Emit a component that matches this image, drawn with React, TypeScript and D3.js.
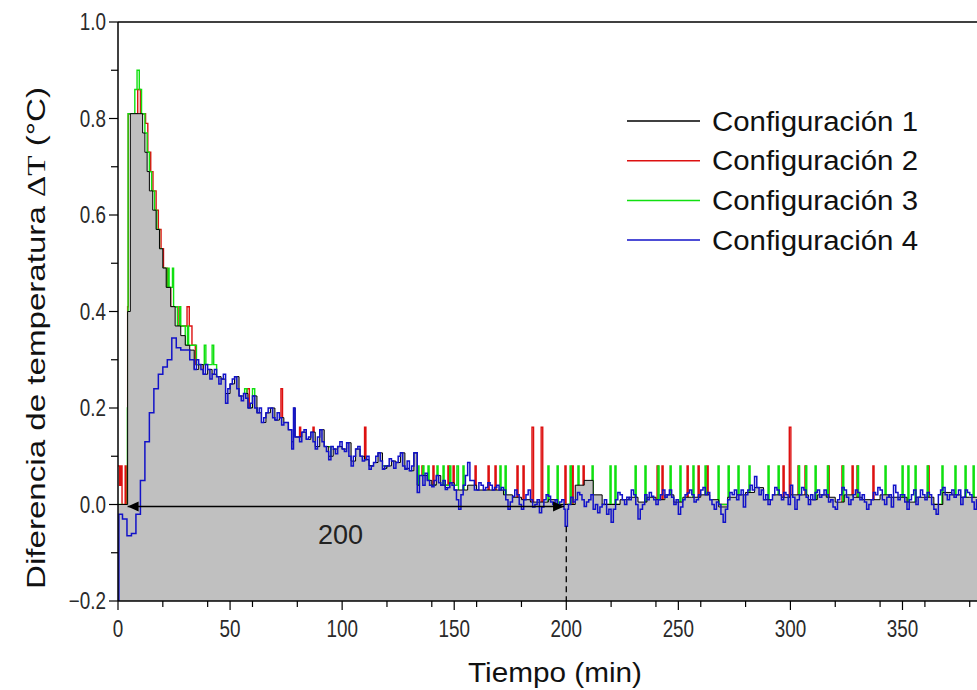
import React from "react";
import * as d3 from "d3";

type P = [number, number];

// ---- data (time in min, ΔT in °C) ----
const seriesNames = ["Configuración 1", "Configuración 2", "Configuración 3", "Configuración 4"];
const seriesColors = ["#000000", "#dd1010", "#10e010", "#1212c8"];

const config1: P[] = [
  [0,0],[4.3,0.4],[5.5,0.81],[11,0.77],[12,0.73],[13,0.69],[14,0.65],[15.5,0.61],[17,0.57],[18.5,0.53],[20,0.49],[21.5,0.45],[23.5,0.41],[25.5,0.37],[28,0.35],[30,0.33],[32,0.32],
  [34,0.28],[36,0.29],[38,0.27],[40,0.28],[42,0.27],[44,0.265],[46,0.26],[48,0.23],[50,0.25],[52,0.265],[54,0.225],[56,0.23],[58,0.2],[60,0.225],[62,0.19],[64,0.17],[66,0.19],[68,0.2],[70,0.175],[72,0.18],[74,0.17],[76,0.155],[77.5,0.13],[78.3,0.2],[79,0.14],[82,0.15],[84,0.135],[86,0.15],[88,0.12],[90,0.155],[92,0.12],[94,0.1],[96,0.115],[98,0.12],[100,0.115],[102,0.128],[104,0.09],[106,0.115],[108,0.1],[110,0.093],[112,0.08],[114,0.087],[116,0.107],[118,0.075],[120,0.08],[122,0.09],[124,0.087],[126,0.107],[128,0.075],[130,0.07],[132,0.107],[133.5,0.04],[134.5,0.06],[138,0.05],[140,0.04],[142,0.06],[144,0.04],[146,0.035],[148,0.045],
  [150,0.03],[152,0.03],[156,0.04],[160,0.03],[164,0.03],[168,0.03],[172,0.02],[176,0.015],[180,0.01],[184,0.005],[188,0.005],[192,0.01],[196,0.0],[200,0.0],[204,0.04],[208,0.05],[212,0.02],[216,0.0],[220,0.0],[224,0.01],[228,0.015],[232,0.005],[236,0.015],[240,0.01],[244,0.02],[248,0.005],[252,0.015],[256,0.015],[260,0.02],[264,0.01],[268,-0.005],[272,0.015],[276,0.02],[280,0.025],[284,0.035],[288,0.01],[292,0.02],[296,0.015],[300,0.02],[304,0.02],[308,0.01],[312,0.02],[316,0.015],[320,0.005],[324,0.02],[328,0.015],[332,0.01],[336,0.01],[340,0.02],[344,0.015],[348,0.015],[352,0.005],[356,0.015],[360,0.015],[364,0.0],[368,0.025],[372,0.02],[376,0.015],[380,0.015],[384,0.015]
];

const config2: P[] = [
  [0,0.08],[0.7,0.04],[1.2,0.08],[1.8,0],[3.2,0.08],[3.7,-0.04],[4.3,0.41],[4.6,0.81],[8.8,0.86],[10,0.81],[12.3,0.79],[13.3,0.73],[14.6,0.69],[15.6,0.65],[17,0.61],[18,0.57],[19.2,0.53],[20.3,0.49],[22,0.45],[23.5,0.41],[26.8,0.37],[30.8,0.41],[31.8,0.37],[33,0.33],[34.5,0.29],[38,0.25],[45,0.2],[57.6,0.24],[58.6,0.2],[62,0.16],[72.7,0.24],[73.4,0.16],[76,0.12],[81,0.16],[81.5,0.12],[87,0.16],[87.5,0.12],[95,0.08],[110,0.16],[110.6,0.08],[120,0.04],[135.6,0.08],[136.1,0.04],[140.5,0.08],[141,0.04],[147.2,0.08],[147.7,0.04],[149.5,0.08],[150,0],[159.3,0.08],[159.8,0],[165.1,0.08],[165.6,0],[168.2,0.08],[168.7,0],[178,0.08],[178.5,0],[180.7,0.08],[181.2,0],[184.7,0.16],[185.4,0],[188.8,0.16],[189.5,0],[199.4,0.08],[199.9,0],[202.6,0.08],[203.1,0],[207.5,0.08],[208,0],[240.5,0.08],[241,0],[242.7,0.08],[243.2,0],[253.9,0.08],[254.4,0],[258.8,0.08],[259.3,0],[262.8,0.08],[263.3,0],[296.7,0.08],[297.2,0],[299.5,0.16],[300.2,0],[303.4,0.08],[303.9,0],[306.5,0.08],[307,0],[316.8,0.08],[317.3,0],[323,0.08],[323.5,0],[327.5,0.08],[328,0],[329.7,0.08],[330.2,0],[336.8,0.08],[337.3,0],[361.4,0.08],[361.9,0],[384,0]
];

const config3: P[] = [
  [0,0],[2,-0.04],[4.2,0.2],[4.5,0.81],[7.5,0.86],[8.5,0.9],[9.5,0.86],[10.5,0.81],[12,0.77],[13,0.73],[14,0.69],[15,0.65],[16.3,0.61],[17.3,0.57],[18.5,0.53],[19.5,0.49],[21.5,0.45],[22.3,0.49],[22.8,0.45],[24.3,0.49],[24.8,0.41],[26.5,0.37],[27.5,0.41],[28,0.37],[30,0.33],[31,0.37],[31.5,0.33],[34,0.33],[35,0.29],[38.5,0.33],[39.2,0.29],[42,0.33],[42.7,0.29],[44,0.25],[46,0.2],[56.5,0.24],[57.5,0.2],[60,0.24],[61,0.2],[62,0.16],[75,0.12],[95,0.08],[120,0.04],[133.8,0.08],[134.3,0.04],[136,0.08],[136.5,0.04],[138.3,0.08],[138.8,0.04],[142.3,0.08],[142.8,0.04],[145,0.08],[145.5,0.04],[148,0.08],[148.5,0.04],[151.2,0.08],[151.9,0],[153.9,0.08],[154.4,0],[170.4,0.08],[170.9,0],[172.7,0.08],[173.2,0],[191.8,0.08],[192.3,0],[195.9,0.08],[196.4,0],[201.7,0.08],[202.2,0],[205.2,0.08],[205.7,0],[211.5,0.08],[212,0],[219.5,0.08],[220,0],[221.7,0.08],[222.2,0],[230.7,0.08],[231.2,0],[235.1,0.08],[235.6,0],[240.9,0.08],[241.4,0],[246.3,0.08],[246.8,0],[250.7,0.08],[251.2,0],[256.5,0.08],[257,0],[261.9,0.08],[262.4,0],[267.7,0.08],[268.2,0],[272.2,0.08],[272.7,0],[276.6,0.08],[277.1,0],[281.5,0.08],[282,0],[290,0.08],[290.5,0],[294.5,0.08],[295,0],[303.6,0.08],[304.1,0],[306.8,0.08],[307.3,0],[311,0.08],[311.5,0],[316.5,0.08],[317,0],[323.3,0.08],[323.8,0],[329.9,0.08],[330.4,0],[342.2,0.08],[342.7,0],[349.8,0.08],[350.3,0],[352.4,0.08],[352.9,0],[355.6,0.08],[356.1,0],[361,0.08],[361.5,0],[367.6,0.08],[368.1,0],[373.4,0.08],[373.9,0],[377.9,0.08],[378.4,0],[381.5,0.08],[382,0],[384,0]
];

const config4: P[] = [
  [0,-0.2],[0.4,-0.02],[2,-0.03],[4,-0.065],[6,-0.06],[8,-0.02],[10,0.05],[12,0.13],[14,0.19],[16,0.24],[18,0.27],[20,0.285],[22,0.3],[24,0.345],[26,0.325],[28,0.32],[30,0.32],[32,0.3],
  [34,0.28],[35,0.3],[36,0.29],[37,0.28],[38,0.27],[39,0.29],[40,0.28],[41,0.26],[42,0.27],[43,0.28],[44,0.265],[45,0.25],[46,0.26],[47,0.27],[48,0.21],[49,0.24],[50,0.25],[51,0.26],[52,0.265],[53,0.24],[54,0.225],[55,0.215],[56,0.23],[57,0.22],[58,0.2],[59,0.21],[60,0.225],[61,0.2],[62,0.19],[63,0.2],[64,0.17],[65,0.18],[66,0.19],[67,0.2],[68,0.2],[69,0.18],[70,0.175],[71,0.19],[72,0.18],[73,0.165],[74,0.17],[75,0.17],[76,0.155],[77.5,0.115],[78.3,0.2],[79,0.14],[81,0.13],[82,0.15],[83,0.155],[84,0.135],[85,0.14],[86,0.15],[87,0.13],[88,0.115],[89,0.14],[90,0.155],[91,0.13],[92,0.12],[93,0.11],[94,0.093],[95,0.12],[96,0.115],[97,0.105],[98,0.12],[99,0.13],[100,0.115],[101,0.11],[102,0.128],[103,0.1],[104,0.08],[105,0.1],[106,0.115],[107,0.12],[108,0.1],[109,0.09],[110,0.093],[111,0.1],[112,0.073],[113,0.08],[114,0.087],[115,0.1],[116,0.107],[117,0.09],[118,0.073],[119,0.08],[120,0.08],[121,0.095],[122,0.09],[123,0.075],[124,0.087],[125,0.1],[126,0.107],[127,0.08],[128,0.073],[129,0.09],[130,0.07],[131,0.08],[132,0.107],[133.5,0.025],[134.5,0.06],[136,0.04],[137,0.065],[138,0.05],[139,0.04],[140,0.037],[141,0.05],[142,0.06],[143,0.045],[144,0.04],[145,0.05],[146,0.031],[147,0.035],[148,0.045],[149,0.04],
  [150,0.03],[151,0.01],[152,-0.01],[153,0.02],[154,0.04],[155,0.06],[156,0.087],[157,0.05],[158,0.05],[159,0.03],[160,0.03],[161,0.045],[162,0.04],[163,0.03],[164,0.035],[165,0.045],[166,0.04],[167,0.03],[168,0.035],[169,0.04],[170,0.03],[171,0.035],[172,0.03],[173,0.01],[174,-0.01],[175,0.005],[176,0.017],[177,0.03],[178,0.02],[179,0.0],[180,-0.01],[181,0.01],[182,0.02],[183,0.03],[184,0.01],[185,-0.005],[186,0.0],[187,0.01],[188,-0.017],[189,-0.005],[190,0.01],[191,0.02],[192,0.017],[193,0.005],[194,0.0],[195,0.01],[196,-0.004],[197,0.005],[198,0.01],[199,-0.01],[199.5,-0.045],[200.5,-0.01],[201,0.0],[202,0.015],[203,0.005],[204,0.01],[205,0.025],[206,0.02],[207,0.01],[208,-0.004],[209,0.005],[210,0.01],[211,0.02],[212,-0.01],[213,0.0],[214,-0.017],[215,-0.005],[216,0.0],[217,0.01],[218,-0.02],[219,-0.01],[220,-0.037],[221,-0.01],[222,0.01],[223,0.025],[224,0.02],[225,0.01],[226,0.0],[227,0.015],[228,0.01],[229,0.03],[230,0.02],[231,0.0],[232,-0.03],[233,-0.01],[234,0.0],[235,0.02],[236,0.01],[237,0.025],[238,0.017],[239,0.01],[240,0.0],[241,0.01],[242,0.02],[243,0.03],[244,0.015],[245,0.02],[246,0.03],[247,0.015],[248,0.0],[249,0.01],[250,-0.02],[251,-0.005],[252,0.01],[253,0.02],[254,0.024],[255,0.03],[256,0.02],[257,0.005],[258,0.01],[259,0.02],[260,0.03],[261,0.035],[262,0.02],[263,0.025],[264,0.01],[265,0.0],[266,-0.01],[267,0.005],[268,0.0],[269,-0.02],[270,-0.037],[271,-0.01],[272,0.01],[273,0.025],[274,0.02],[275,0.03],[276,0.01],[277,0.02],[278,0.03],[279,-0.005],[280,0.02],[281,0.03],[282,0.04],[283,0.03],[284,0.058],[285,0.035],[286,0.02],[287,0.03],[288,0.01],[289,0.02],[290,0.0],[291,0.01],[292,0.02],[293,0.035],[294,0.03],[295,0.02],[296,0.01],[297,0.025],[298,0.02],[299,0.0],[300,0.04],[301,0.015],[302,-0.01],[303,0.01],[304,0.02],[305,0.035],[306,0.03],[307,0.015],[308,0.0],[309,0.02],[310,0.01],[311,0.025],[312,0.03],[313,0.015],[314,0.02],[315,0.03],[316,0.02],[317,0.005],[318,0.01],[319,-0.005],[320,-0.01],[321,0.01],[322,0.02],[323,0.035],[324,0.03],[325,0.015],[326,0.0],[327,0.01],[328,0.02],[329,0.03],[330,0.025],[331,0.01],[332,0.02],[333,0.005],[334,-0.01],[335,0.0],[336,0.01],[337,0.025],[338,0.02],[339,0.035],[340,0.03],[341,0.01],[342,0.0],[343,0.015],[344,0.02],[345,-0.005],[346,0.04],[347,0.025],[348,0.01],[349,0.02],[350,0.02],[351,0.005],[352,-0.01],[353,0.01],[354,0.02],[355,0.03],[356,0.0],[357,0.015],[358,0.03],[359,0.02],[360,0.01],[361,0.025],[362,0.02],[363,0.0],[364,-0.01],[365,-0.02],[366,0.02],[367,0.03],[368,0.035],[369,0.02],[370,0.01],[371,0.02],[372,0.03],[373,0.015],[374,0.02],[375,0.03],[376,0.0],[377,0.015],[378,0.03],[379,0.025],[380,0.02],[381,0.005],[382,-0.01],[383,0.01],[384,0.02]
];

// annotation: interval marked with the arrow
const intervalStart = 4.3;
const intervalEnd = 199;
const intervalLabel = "200";
const markerTime = 200;

const xDomain: [number, number] = [0, 400];
const yDomain: [number, number] = [-0.2, 1.0];

export default function App() {
  const W = 977, H = 690;
  const left = 118, top = 22, bottom = 601;
  const pxPerMin = 2.2414;
  const x = d3.scaleLinear().domain(xDomain).range([left, left + 400 * pxPerMin]);
  const y = d3.scaleLinear().domain(yDomain).range([bottom, top]);

  const line = d3.line<P>().x(d => x(d[0])).y(d => y(d[1])).curve(d3.curveStepAfter);
  const area = d3.area<P>().x(d => x(d[0])).y0(y(-0.2)).y1(d => y(d[1])).curve(d3.curveStepAfter);

  const visible = (t: number) => x(t) <= W - 1;
  const xMajor = x.ticks(8).filter(visible);
  const xMinor = x.ticks(16).filter(t => !xMajor.includes(t)).filter(visible);
  const yMajor = y.ticks(6);
  const yMinor = y.ticks(12).filter(t => !yMajor.some(m => Math.abs(m - t) < 1e-9));
  const fmtY = d3.format(".1f");

  const font = "Arial, 'Liberation Sans', sans-serif";
  const tickColor = "#2a2a2a";

  const y0 = y(0);
  const xa = x(intervalStart), xb = x(intervalEnd);
  const ah = 11, aw = 5;

  return (
    <svg width={W} height={H} style={{ position: "absolute", left: 0, top: 0, background: "#fff" }} fontFamily={font}>
      <defs>
        <clipPath id="plot">
          <rect x={left} y={top} width={W - left} height={bottom - top} />
        </clipPath>
      </defs>
      <rect x={0} y={0} width={W} height={H} fill="#fff" />
      <g clipPath="url(#plot)">
        <path d={line(config2) || ""} fill="none" stroke={seriesColors[1]} strokeWidth={1.4} />
        <path d={line(config3) || ""} fill="none" stroke={seriesColors[2]} strokeWidth={1.4} />
        <path d={area(config1) || ""} fill="#c0c0c0" stroke="none" />
        <path d={line(config1) || ""} fill="none" stroke={seriesColors[0]} strokeWidth={1} />
        <path d={line(config4) || ""} fill="none" stroke={seriesColors[3]} strokeWidth={1.5} />
        {/* annotation */}
        <line x1={xa} x2={xb} y1={y0 + 2} y2={y0 + 2} stroke="#000" strokeWidth={1.5} />
        <path d={`M${xa},${y0 + 2} l${ah},${-aw} l0,${2 * aw} Z`} fill="#000" />
        <path d={`M${xb},${y0 + 2} l${-ah},${-aw} l0,${2 * aw} Z`} fill="#000" />
        <line x1={x(markerTime)} x2={x(markerTime)} y1={y(-0.045)} y2={bottom} stroke="#000" strokeWidth={1.3} strokeDasharray="6,4" />
      </g>
      <text x={x(99.3)} y={y0 + 39} textAnchor="middle" fontSize={27} fill="#222">{intervalLabel}</text>

      {/* frame */}
      <line x1={left} x2={W} y1={top} y2={top} stroke="#000" strokeWidth={1.5} />
      <line x1={left} x2={left} y1={top} y2={bottom} stroke="#000" strokeWidth={1.5} />
      <line x1={left} x2={W} y1={bottom} y2={bottom} stroke="#000" strokeWidth={1.5} />

      {/* y ticks */}
      {yMajor.map(t => (
        <g key={"ym" + t}>
          <line x1={left - 9} x2={left} y1={y(t)} y2={y(t)} stroke="#000" strokeWidth={1.2} />
          <text transform={`translate(${left - 12},${y(t) + 8}) scale(0.82,1)`} textAnchor="end" fontSize={23} fill={tickColor}>{fmtY(t)}</text>
        </g>
      ))}
      {yMinor.map(t => (
        <line key={"yn" + t} x1={left - 7} x2={left} y1={y(t)} y2={y(t)} stroke="#000" strokeWidth={1.2} />
      ))}

      {/* x ticks */}
      {xMajor.map(t => (
        <g key={"xm" + t}>
          <line x1={x(t)} x2={x(t)} y1={bottom} y2={bottom + 9} stroke="#000" strokeWidth={1.2} />
          <text transform={`translate(${x(t)},${bottom + 36}) scale(0.82,1)`} textAnchor="middle" fontSize={23} fill={tickColor}>{t}</text>
        </g>
      ))}
      {xMinor.map(t => (
        <line key={"xn" + t} x1={x(t)} x2={x(t)} y1={bottom} y2={bottom + 6} stroke="#000" strokeWidth={1.2} />
      ))}

      {/* axis titles */}
      <text x={555} y={682} textAnchor="middle" fontSize={27} fill="#111" textLength={174} lengthAdjust="spacingAndGlyphs">Tiempo (min)</text>
      <text transform="translate(45,338) rotate(-90)" textAnchor="middle" fontSize={26} fill="#111" textLength={502} lengthAdjust="spacingAndGlyphs">
        Diferencia de temperatura{"  "}<tspan fontFamily="'Liberation Serif', 'DejaVu Serif', serif">ΔT</tspan>{"  "}(°C)
      </text>

      {/* legend */}
      {seriesNames.map((n, i) => (
        <g key={n}>
          <line x1={627} x2={700} y1={121 + i * 39.7} y2={121 + i * 39.7} stroke={seriesColors[i]} strokeWidth={1.5} />
          <text x={712} y={121 + i * 39.7 + 9.5} fontSize={27} fill="#111" textLength={206} lengthAdjust="spacingAndGlyphs">{n}</text>
        </g>
      ))}
    </svg>
  );
}
